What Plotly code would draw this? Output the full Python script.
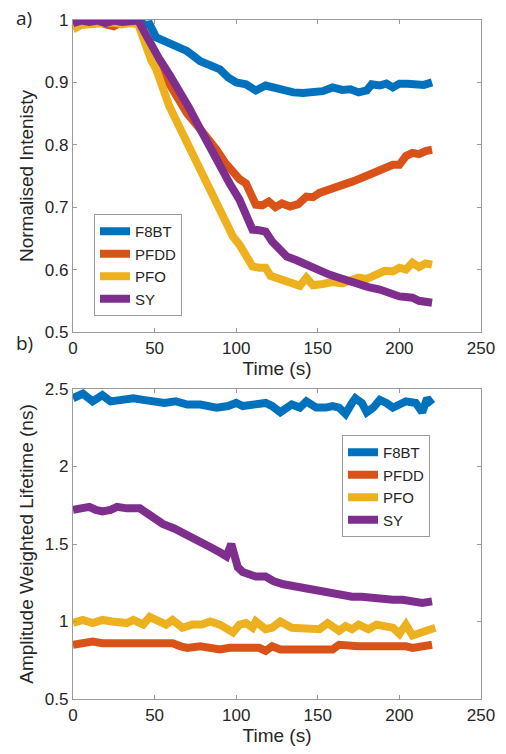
import plotly.graph_objects as go

# ---------- Panel a) Normalised intensity ----------
t_f8bt_a = [0, 5, 10, 15, 20, 25, 30, 35, 40, 44, 47, 51, 56, 63, 70, 78, 84, 90, 95, 100, 106, 110, 112, 118, 124, 130, 135, 141, 147, 153, 159, 165, 170, 175, 180, 183, 188, 192, 196, 200, 205, 210, 215, 220]
v_f8bt_a = [0.995, 0.998, 0.996, 0.999, 0.995, 0.998, 0.996, 0.999, 1.0, 0.992, 0.993, 0.972, 0.966, 0.961, 0.95, 0.934, 0.927, 0.921, 0.908, 0.90, 0.897, 0.892, 0.887, 0.895, 0.89, 0.885, 0.884, 0.883, 0.885, 0.886, 0.892, 0.888, 0.889, 0.884, 0.887, 0.897, 0.895, 0.898, 0.892, 0.898, 0.898, 0.897, 0.896, 0.90]

t_pfdd_a = [0, 5, 10, 15, 20, 25, 30, 35, 40, 47, 55, 63, 70, 78, 83, 88, 93, 98, 102, 106, 109, 112, 116, 120, 124, 128, 133, 138, 143, 147, 151, 155, 159, 165, 171, 176, 180, 185, 190, 196, 200, 204, 208, 212, 216, 220]
v_pfdd_a = [0.995, 0.997, 0.994, 0.998, 0.993, 0.99, 0.997, 0.995, 0.998, 0.955, 0.915, 0.88, 0.85, 0.825, 0.81, 0.792, 0.772, 0.755, 0.745, 0.738, 0.72, 0.704, 0.703, 0.709, 0.70, 0.706, 0.701, 0.705, 0.717, 0.716, 0.723, 0.726, 0.731, 0.735, 0.741, 0.746, 0.75, 0.756, 0.761, 0.768, 0.768, 0.782, 0.787, 0.785, 0.79, 0.792]

t_pfo_a = [0, 5, 10, 15, 20, 25, 30, 35, 40, 44, 48, 51, 55, 59, 64, 70, 76, 82, 86, 90, 94, 98, 102, 106, 110, 114, 118, 121, 124, 129, 134, 139, 143, 147, 153, 159, 165, 170, 175, 180, 183, 187, 191, 196, 200, 204, 208, 212, 216, 220]
v_pfo_a = [0.985, 0.992, 0.993, 0.995, 0.994, 0.996, 0.993, 0.995, 0.993, 0.96, 0.935, 0.921, 0.89, 0.862, 0.835, 0.803, 0.77, 0.733, 0.717, 0.697, 0.675, 0.653, 0.64, 0.625, 0.605, 0.603, 0.603, 0.59, 0.587, 0.583, 0.578, 0.574, 0.587, 0.575, 0.577, 0.58, 0.578, 0.581, 0.587, 0.585, 0.589, 0.591, 0.598, 0.597, 0.603, 0.60, 0.611, 0.604, 0.61, 0.608]

t_sy_a = [0, 5, 10, 15, 20, 25, 30, 35, 40, 45, 49, 53, 59, 65, 71, 78, 84, 90, 96, 102, 106, 110, 114, 118, 122, 127, 131, 137, 143, 147, 151, 157, 163, 169, 175, 181, 188, 194, 200, 204, 208, 212, 216, 220]
v_sy_a = [0.995, 0.999, 0.997, 0.999, 0.995, 0.999, 0.997, 0.999, 0.999, 0.975, 0.955, 0.937, 0.913, 0.889, 0.86, 0.825, 0.795, 0.766, 0.738, 0.712, 0.69, 0.664, 0.663, 0.661, 0.645, 0.632, 0.621, 0.615, 0.608, 0.603, 0.597, 0.592, 0.587, 0.581, 0.576, 0.572, 0.568, 0.562, 0.557, 0.556, 0.555, 0.55, 0.548, 0.547]

# ---------- Panel b) Amplitude weighted lifetime ----------
t_f8bt_b = [0, 6, 12, 18, 23, 30, 37, 43, 49, 56, 63, 70, 78, 88, 95, 100, 104, 110, 118, 122, 127, 134, 139, 143, 149, 155, 159, 163, 167, 171, 173, 177, 180, 184, 188, 192, 196, 200, 204, 210, 214, 217, 220]
v_f8bt_b = [2.44, 2.47, 2.42, 2.46, 2.42, 2.43, 2.44, 2.43, 2.42, 2.41, 2.42, 2.40, 2.40, 2.38, 2.39, 2.41, 2.39, 2.40, 2.41, 2.39, 2.35, 2.40, 2.38, 2.42, 2.38, 2.38, 2.39, 2.38, 2.34, 2.41, 2.44, 2.41, 2.35, 2.38, 2.43, 2.41, 2.38, 2.40, 2.42, 2.41, 2.35, 2.44, 2.40]

t_pfdd_b = [0, 6, 12, 18, 25, 31, 37, 43, 49, 55, 61, 66, 70, 78, 84, 90, 96, 102, 108, 114, 118, 122, 127, 131, 137, 143, 149, 155, 159, 163, 169, 175, 180, 186, 192, 198, 204, 208, 214, 220]
v_pfdd_b = [0.85, 0.86, 0.87, 0.86, 0.86, 0.86, 0.87, 0.86, 0.86, 0.86, 0.86, 0.84, 0.83, 0.84, 0.83, 0.82, 0.83, 0.83, 0.83, 0.83, 0.81, 0.84, 0.82, 0.82, 0.83, 0.83, 0.83, 0.83, 0.82, 0.85, 0.84, 0.84, 0.84, 0.84, 0.84, 0.85, 0.84, 0.83, 0.84, 0.85]

t_pfo_b = [0, 6, 12, 18, 24, 33, 37, 43, 47, 52, 57, 61, 67, 73, 79, 84, 90, 98, 102, 106, 110, 112, 118, 122, 127, 134, 140, 146, 151, 156, 163, 167, 171, 175, 181, 186, 192, 196, 200, 204, 208, 214, 218, 222]
v_pfo_b = [0.99, 1.01, 0.99, 1.01, 1.00, 0.99, 1.01, 0.98, 1.03, 1.00, 0.98, 1.01, 0.96, 0.98, 0.98, 1.00, 0.98, 0.93, 0.98, 0.99, 0.96, 1.00, 0.95, 0.96, 1.00, 0.96, 0.96, 0.95, 0.95, 0.99, 0.94, 0.97, 0.95, 0.98, 0.95, 0.98, 0.96, 0.96, 0.92, 0.98, 0.91, 0.93, 0.94, 0.96]

t_sy_b = [0, 5, 10, 14, 18, 23, 27, 33, 41, 48, 55, 62, 70, 78, 86, 91, 94, 97, 99, 101, 104, 108, 112, 118, 123, 129, 134, 139, 144, 149, 154, 159, 165, 171, 177, 183, 190, 196, 202, 208, 214, 220]
v_sy_b = [1.72, 1.73, 1.74, 1.72, 1.71, 1.72, 1.74, 1.73, 1.73, 1.68, 1.63, 1.60, 1.56, 1.52, 1.47, 1.44, 1.42, 1.50, 1.42, 1.35, 1.32, 1.31, 1.29, 1.29, 1.26, 1.24, 1.23, 1.23, 1.22, 1.21, 1.20, 1.19, 1.18, 1.16, 1.16, 1.15, 1.15, 1.14, 1.14, 1.13, 1.12, 1.13]

series_names = ["F8BT", "PFDD", "PFO", "SY"]
colors = ["#0072BD", "#D95319", "#EDB120", "#7E2F8E"]

x_ticks = [0, 50, 100, 150, 200, 250]
ya_ticks = [0.5, 0.6, 0.7, 0.8, 0.9, 1]
yb_ticks = [0.5, 1, 1.5, 2, 2.5]

panel_a = [(t_f8bt_a, v_f8bt_a), (t_pfdd_a, v_pfdd_a), (t_pfo_a, v_pfo_a), (t_sy_a, v_sy_a)]
panel_b = [(t_f8bt_b, v_f8bt_b), (t_pfdd_b, v_pfdd_b), (t_pfo_b, v_pfo_b), (t_sy_b, v_sy_b)]

fig = go.Figure()
LW = 8
for (t, v), name, c in zip(panel_a, series_names, colors):
    fig.add_trace(go.Scatter(x=t, y=v, mode="lines", name=name, line=dict(color=c, width=LW),
                             xaxis="x", yaxis="y", legend="legend"))
for (t, v), name, c in zip(panel_b, series_names, colors):
    fig.add_trace(go.Scatter(x=t, y=v, mode="lines", name=name, line=dict(color=c, width=LW),
                             xaxis="x2", yaxis="y2", legend="legend2"))

FONT = "Liberation Sans, Arial, sans-serif"
TXT = "#262626"
AX = "#9a9a9a"
common = dict(showline=True, linecolor=AX, linewidth=1.3, mirror="ticks", ticks="inside",
              ticklen=4, tickcolor=AX, showgrid=False, zeroline=False,
              tickfont=dict(family=FONT, size=17, color=TXT))
TITLE_FONT = dict(family=FONT, size=19, color=TXT)

L, R, T, B = 73, 25, 20, 55
W = 506 - L - R
H = 754 - T - B
fig.update_layout(
    width=506, height=754,
    margin=dict(l=L, r=R, t=T, b=B),
    paper_bgcolor="white", plot_bgcolor="white",
    font=dict(family=FONT, color=TXT),
    xaxis=dict(domain=[0, 1], range=[0, 250], tickvals=x_ticks, anchor="y",
               title=dict(text="Time (s)", font=TITLE_FONT, standoff=1), **common),
    yaxis=dict(domain=[(699 - 332) / H, 1.0], range=[0.5, 1.0], tickvals=ya_ticks,
               ticktext=["0.5", "0.6", "0.7", "0.8", "0.9", "1"], anchor="x",
               title=dict(text="Normalised Intenisty", font=TITLE_FONT, standoff=6), **common),
    xaxis2=dict(domain=[0, 1], range=[0, 250], tickvals=x_ticks, anchor="y2",
                title=dict(text="Time (s)", font=TITLE_FONT, standoff=1), **common),
    yaxis2=dict(domain=[0, (699 - 389) / H], range=[0.5, 2.5], tickvals=yb_ticks,
                ticktext=["0.5", "1", "1.5", "2", "2.5"], anchor="x2",
                title=dict(text="Amplitude Weighted Lifetime (ns)", font=TITLE_FONT, standoff=6), **common),
    legend=dict(x=(94 - L) / W, y=(699 - 214) / H, xanchor="left", yanchor="top",
                bgcolor="white", bordercolor=AX, borderwidth=1,
                font=dict(family=FONT, size=15, color=TXT), tracegroupgap=0, itemwidth=30),
    legend2=dict(x=(342 - L) / W, y=(699 - 435) / H, xanchor="left", yanchor="top",
                 bgcolor="white", bordercolor=AX, borderwidth=1,
                 font=dict(family=FONT, size=15, color=TXT), tracegroupgap=0, itemwidth=30),
    showlegend=True,
)

LABEL_FONT = dict(family="Open Sans, sans-serif", size=19, color=TXT)
for txt, px, py in [("a)", 24, 18), ("b)", 24, 343)]:
    fig.add_annotation(text=txt, x=(px - L) / W, y=(699 - py) / H, xref="paper", yref="paper",
                       xanchor="center", yanchor="middle", showarrow=False, font=LABEL_FONT)

fig.write_html("out.html")
